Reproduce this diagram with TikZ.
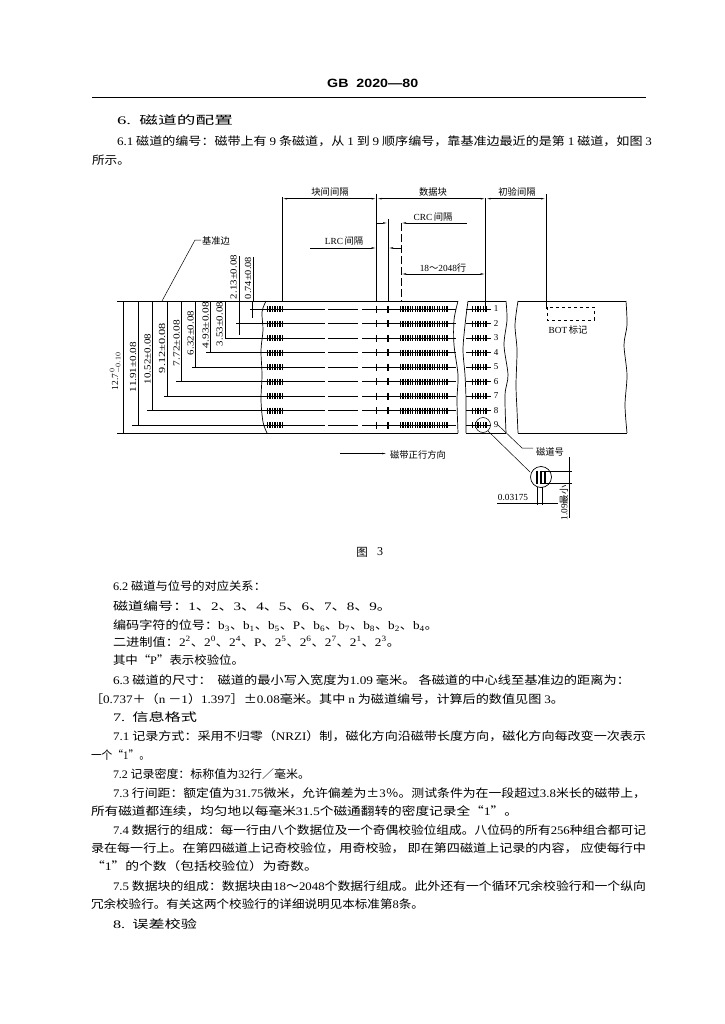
\documentclass[tikz,border=0pt]{standalone}
\usepackage{fontspec}
\usepackage{graphicx}
\setmainfont{Noto Sans CJK SC}
\newfontfamily\latf{Liberation Serif}
\newfontfamily\headf{Liberation Sans}[BoldFont={Liberation Sans Bold}]
\newcommand{\lat}[1]{{\latf #1}}
\usetikzlibrary{arrows.meta}
\tikzset{
  ln/.style={line width=0.7pt,black},
  thin ln/.style={line width=0.5pt,black},
  tape/.style={line width=0.9pt,black},
  dimarrow/.style={line width=0.6pt,black,{Latex[length=5pt,width=1.6pt]}-{Latex[length=5pt,width=1.6pt]}},
  txt/.style={inner sep=0pt,outer sep=0pt,font=\fontsize{11.5}{12}\selectfont,black},
  small/.style={inner sep=0pt,outer sep=0pt,font=\fontsize{9.3}{10}\selectfont,black}
}
% name, x, y centre, width, text
\newcommand{\tl}[5]{\node[txt,anchor=base west] (#1) at (#2,#3+4.2) {\resizebox{#4pt}{\height}{#5}};}
% name, x, y centre, length, text
\newcommand{\vl}[5]{\node[small,rotate=90] (#1) at (#2,#3) {\resizebox{#4pt}{\height}{\latf #5}};}
\begin{document}
\begin{tikzpicture}[x=1pt,y=-1pt]
\useasboundingbox[fill=white] (0,0) rectangle (724,1024);
% header
\node[inner sep=0pt,anchor=base west] (hdr) at (327,88) {\resizebox{91pt}{\height}{\fontsize{12}{12}\headf\bfseries GB\ \ 2020—80}};
\draw[line width=0.8pt] (92,97) -- (646,97);
% upper text
\tl{a1}{117}{120}{116}{\lat{6.}\ \ 磁道的配置}
\tl{a2}{117}{141}{535}{\lat{6.1} 磁道的编号：磁带上有 \lat{9} 条磁道，从 \lat{1} 到 \lat{9} 顺序编号，靠基准边最近的是第 \lat{1} 磁道，如图 \lat{3}}
\tl{a3}{92}{160}{38}{所示。}
% tape outline
\draw[tape] (117,301) -- (458,301);
\draw[tape] (117,433) -- (458,433);
\draw[tape] (468,301) -- (506,301);
\draw[tape] (466,433) -- (506,433);
\draw[tape] (518,301) -- (626,301);
\draw[tape] (518,433) -- (627,433);
% breaks
\draw[ln] plot[smooth] coordinates {(266,301) (262,312) (263,330) (261,350) (262,375) (261,400) (263,422) (267,433)};
\draw[ln] plot[smooth] coordinates {(458,301) (454,320) (454,345) (458,375) (457,400) (458,433)};
\draw[ln] plot[smooth] coordinates {(468,301) (465,325) (463,350) (465,375) (466,400) (466,433)};
\draw[ln] plot[smooth] coordinates {(506,301) (507,320) (504,345) (508,375) (505,395) (506,433)};
\draw[ln] plot[smooth] coordinates {(518,301) (515,325) (517,350) (516,385) (517,410) (518,433)};
\draw[ln] plot[smooth] coordinates {(626,301) (627,325) (624,345) (627,375) (625,405) (627,433)};
% tracks
\foreach \n/\y in {1/309,2/323.5,3/338,4/352.5,5/367,6/381.5,7/396,8/410.5,9/425}{
  \draw[thin ln,dash pattern=on 42pt off 3pt on 30pt off 4pt on 18pt off 3pt] (283,\y) -- (376,\y);
  \draw[ln] (264,\y) -- (284,\y) (376,\y) -- (448,\y);
  \draw[thin ln] (448,\y) -- (456,\y) (466,\y) -- (491,\y);
  \foreach \xx in {267.5,270,272.5,275,277.5,280,282.5}{\draw[line width=1.3pt] (\xx,\y-3) -- (\xx,\y+3);}
  \draw[line width=1.4pt] (376.7,\y-3.5) -- (376.7,\y+3.5) (388,\y-3.5) -- (388,\y+3.5);
  \foreach \k in {0,...,19}{\draw[line width=1.3pt] (400.5+2.45*\k,\y-3) -- (400.5+2.45*\k,\y+3);}
  \foreach \k in {0,...,5}{\draw[line width=1.3pt] (472.5+2.7*\k,\y-3) -- (472.5+2.7*\k,\y+3);}
  \node[small] (t\n) at (496,\y) {\latf\fontsize{9}{9}\selectfont \n};
}
% vertical dimension lines, left side
\draw[ln] (123,301) -- (123,433);
\draw[ln] (138,301) -- (138,425) (132,425) -- (264,425);
\draw[ln] (152.7,301) -- (152.7,410.5) (147,410.5) -- (264,410.5);
\draw[ln] (167,301) -- (167,396) (164,396) -- (264,396);
\draw[ln] (181.3,301) -- (181.3,381.5) (176,381.5) -- (264,381.5);
\draw[ln] (195.7,301) -- (195.7,367) (192,367) -- (264,367);
\draw[ln] (210.7,301) -- (210.7,352.5) (206,352.5) -- (264,352.5);
\draw[ln] (225,301) -- (225,338) -- (264,338);
\draw[ln] (239.3,301) -- (239.3,335) (236,323.5) -- (264,323.5);
\draw[ln] (252.7,301) -- (252.7,318) (250,309) -- (264,309);
\draw[thin ln] (239.5,256) -- (239.5,301);
\draw[thin ln] (253,257) -- (253,301);
\vl{d1}{115.5}{371}{38}{12.7$^{\,0}_{-0.10}$}
\vl{d2}{133}{367}{50}{11.91±0.08}
\vl{d3}{147.5}{359}{50}{10.52±0.08}
\vl{d4}{162}{348}{50}{9.12±0.08}
\vl{d5}{176.5}{343}{46}{7.72±0.08}
\vl{d6}{190.5}{333}{44}{6.32±0.08}
\vl{d7}{205.5}{325}{46}{4.93±0.08}
\vl{d8}{219.5}{324}{44}{3.53±0.08}
\vl{d9}{233.5}{277}{44}{2.13±0.08}
\vl{d10}{248}{278}{42}{0.74±0.08}
% base edge leader
\draw[thin ln] (162,301) -- (195,240) -- (201,240);
\node[small,anchor=west] (jz) at (202,241) {基准边};
% top dimensions
\draw[thin ln] (282,197) -- (282,301);
\draw[thin ln] (376.7,194) -- (376.7,301);
\draw[thin ln] (388,219) -- (388,301);
\draw[thin ln,dash pattern=on 8pt off 3pt] (401,223) -- (401,301);
\draw[thin ln] (485.7,198) -- (485.7,309);
\draw[thin ln] (546,194) -- (546,309);
\draw[dimarrow] (282,198.7) -- (376.7,198.7);
\draw[dimarrow] (376.7,198.7) -- (485.7,198.7);
\draw[dimarrow] (485.7,198.7) -- (546,198.7);
\node[small] (l1) at (330,192) {块间间隔};
\node[small] (l2) at (433,192) {数据块};
\node[small] (l3) at (517,192) {初验间隔};
% CRC
\draw[line width=0.6pt,-{Latex[length=5pt,width=1.6pt]}] (376,223) -- (388,223);
\draw[line width=0.6pt,{Latex[length=5pt,width=1.6pt]}-] (401,223) -- (467,223);
\node[small] (l4) at (433,217) {\lat{CRC}\,间隔};
% LRC
\draw[line width=0.6pt,-{Latex[length=5pt,width=1.6pt]}] (310,248) -- (376.7,248);
\draw[line width=0.6pt,{Latex[length=5pt,width=1.6pt]}-] (388,248) -- (401,248);
\node[small] (l5) at (344,241.5) {\lat{LRC}\,间隔};
% 18-2048
\draw[dimarrow] (401,274) -- (485.7,274);
\node[small] (l6) at (443,268) {\lat{18}～\lat{2048}行};
% BOT
\draw[ln,dashed] (547,307) rectangle (594,320);
\node[small] (bot) at (568,330) {\lat{BOT}\,标记};
% direction
\draw[ln,-{Latex[length=6pt,width=1.6pt]}] (340,453.5) -- (388,453.5);
\node[small] (dir) at (418,455) {磁带正行方向};
% detail
\draw[thin ln] (483,425) circle (7.5);
\draw[thin ln] (488,431) -- (530,472);
\draw[thin ln] (498,425) -- (522,448) -- (533,448);
\node[small] (cdh) at (550,451.5) {磁道号};
\draw[line width=0.7pt] (541,477) circle (10.5);
\foreach \xx in {537,541,545}{\draw[line width=2pt] (\xx,470.5) -- (\xx,484);}
\draw[thin ln] (541,471) -- (572,471) (541,483) -- (572,483);
\draw[thin ln] (569,457) -- (569,518);
\node[small,rotate=90] (w) at (564,503) {\lat{1.09}最小};
\draw[thin ln] (537,487) -- (537,505) (542,487) -- (542,505);
\draw[thin ln] (497,503) -- (558,503);
\node[small] (ws) at (513,497) {\lat{0.03175}};
% figure caption
\node[txt] (fig) at (362,552) {图};
\node[txt] (fign) at (380,552) {\latf\fontsize{12}{12}\selectfont 3};
% lower text
\tl{b1}{113}{586}{153}{\lat{6.2} 磁道与位号的对应关系：}
\tl{b2}{113}{606}{279}{磁道编号：\lat{1}、\lat{2}、\lat{3}、\lat{4}、\lat{5}、\lat{6}、\lat{7}、\lat{8}、\lat{9}。}
\tl{b3}{113}{625}{325}{编码字符的位号：\lat{b\textsubscript{3}}、\lat{b\textsubscript{1}}、\lat{b\textsubscript{5}}、\lat{P}、\lat{b\textsubscript{6}}、\lat{b\textsubscript{7}}、\lat{b\textsubscript{8}}、\lat{b\textsubscript{2}}、\lat{b\textsubscript{4}}。}
\tl{b4}{113}{642}{287}{二进制值：\lat{2\textsuperscript{2}}、\lat{2\textsuperscript{0}}、\lat{2\textsuperscript{4}}、\lat{P}、\lat{2\textsuperscript{5}}、\lat{2\textsuperscript{6}}、\lat{2\textsuperscript{7}}、\lat{2\textsuperscript{1}}、\lat{2\textsuperscript{3}}。}
\tl{b5}{113}{660}{131}{其中“\lat{P}”表示校验位。}
\tl{b6}{113}{680}{517}{\lat{6.3} 磁道的尺寸：\ \ 磁道的最小写入宽度为\lat{1.09} 毫米。 各磁道的中心线至基准边的距离为：}
\tl{b7}{90}{699}{474}{［\lat{0.737}＋（\lat{n} －\lat{1}）\lat{1.397}］±\lat{0.08}毫米。其中 \lat{n} 为磁道编号，计算后的数值见图 \lat{3}。}
\tl{b8}{113}{717}{84}{\lat{7.}\ \ 信息格式}
\tl{b9}{113}{736}{533}{\lat{7.1} 记录方式：采用不归零（\lat{NRZI}）制，磁化方向沿磁带长度方向，磁化方向每改变一次表示}
\tl{b10}{91}{755}{59}{一个“\lat{1}”。}
\tl{b11}{113}{774}{197}{\lat{7.2} 记录密度：标称值为\lat{32}行／毫米。}
\tl{b12}{113}{793}{533}{\lat{7.3} 行间距：额定值为\lat{31.75}微米，允许偏差为±\lat{3}％。测试条件为在一段超过\lat{3.8}米长的磁带上，}
\tl{b13}{91}{811}{427}{所有磁道都连续，均匀地以每毫米\lat{31.5}个磁通翻转的密度记录全“\lat{1}”。}
\tl{b14}{113}{830}{533}{\lat{7.4} 数据行的组成：每一行由八个数据位及一个奇偶校验位组成。八位码的所有\lat{256}种组合都可记}
\tl{b15}{91}{848}{555}{录在每一行上。在第四磁道上记奇校验位，用奇校验， 即在第四磁道上记录的内容， 应使每行中}
\tl{b16}{91}{866}{227}{“\lat{1}”的个数（包括校验位）为奇数。}
\tl{b17}{113}{886}{533}{\lat{7.5} 数据块的组成：数据块由\lat{18}～\lat{2048}个数据行组成。此外还有一个循环冗余校验行和一个纵向}
\tl{b18}{91}{904}{333}{冗余校验行。有关这两个校验行的详细说明见本标准第\lat{8}条。}
\tl{b19}{113}{924}{84}{\lat{8.}\ \ 误差校验}
\end{tikzpicture}
\end{document}
